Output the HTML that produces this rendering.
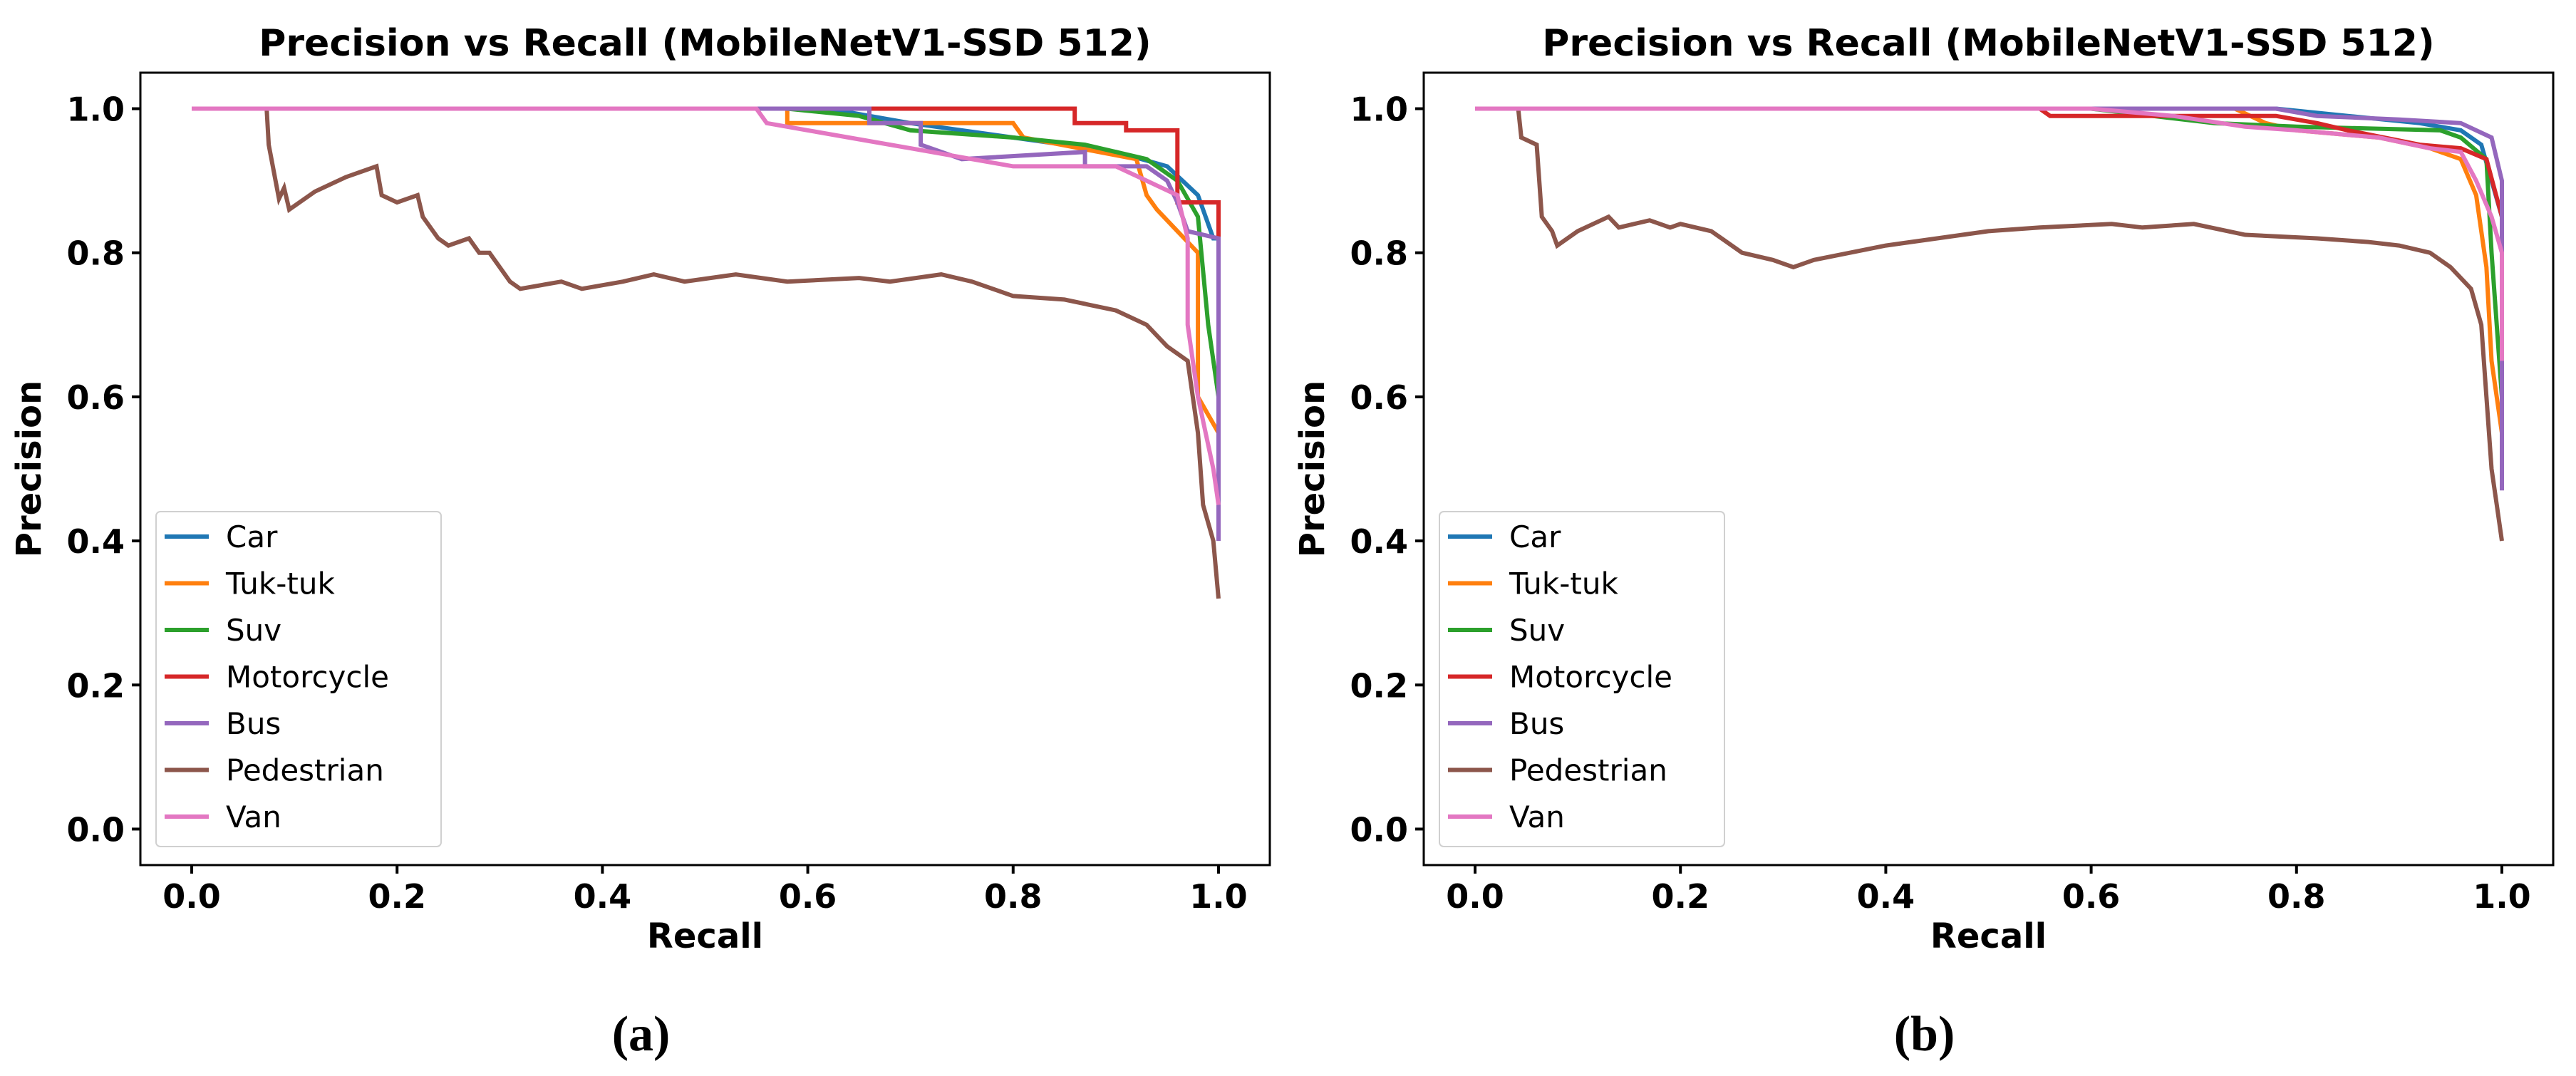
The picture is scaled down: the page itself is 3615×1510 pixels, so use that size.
<!DOCTYPE html>
<html><head><meta charset="utf-8">
<style>
html,body{margin:0;padding:0;background:#fff;}
svg{display:block;font-family:"DejaVu Sans","Liberation Sans",sans-serif;}
</style></head>
<body>
<svg id="fig" width="3615" height="1510" viewBox="0 0 3615 1510" xmlns="http://www.w3.org/2000/svg"></svg>
<script>
const seriesNames = ["Car","Tuk-tuk","Suv","Motorcycle","Bus","Pedestrian","Van"];
const seriesColors = ["#1f77b4","#ff7f0e","#2ca02c","#d62728","#9467bd","#8c564b","#e377c2"];
const xTicks = [0,0.2,0.4,0.6,0.8,1.0];
const yTicks = [0,0.2,0.4,0.6,0.8,1.0];

// Panel (a) recall / precision
const aCarR = [0,0.62,0.7,0.8,0.9,0.95,0.98,0.995,1.0,1.0];
const aCarP = [1,1,0.98,0.96,0.94,0.92,0.88,0.82,0.82,0.5];
const aTukR = [0,0.58,0.58,0.8,0.81,0.92,0.93,0.94,0.96,0.98,0.98,1.0];
const aTukP = [1,1,0.98,0.98,0.96,0.93,0.88,0.86,0.83,0.8,0.6,0.55];
const aSuvR = [0,0.58,0.65,0.7,0.8,0.87,0.93,0.96,0.98,0.99,1.0];
const aSuvP = [1,1,0.99,0.97,0.96,0.95,0.93,0.9,0.85,0.7,0.6];
const aMotR = [0,0.86,0.86,0.91,0.91,0.96,0.96,1.0,1.0];
const aMotP = [1,1,0.98,0.98,0.97,0.97,0.87,0.87,0.82];
const aBusR = [0,0.66,0.66,0.71,0.71,0.75,0.87,0.87,0.93,0.95,0.96,0.97,1.0,1.0];
const aBusP = [1,1,0.98,0.98,0.95,0.93,0.94,0.92,0.92,0.9,0.87,0.83,0.82,0.4];
const aPedR = [0,0.073,0.075,0.085,0.09,0.095,0.12,0.15,0.18,0.185,0.2,0.22,0.225,0.24,0.25,0.27,0.28,0.29,0.31,0.32,0.36,0.38,0.42,0.45,0.48,0.53,0.58,0.65,0.68,0.73,0.76,0.8,0.85,0.9,0.93,0.95,0.97,0.98,0.985,0.995,1.0];
const aPedP = [1,1,0.95,0.875,0.89,0.86,0.885,0.905,0.92,0.88,0.87,0.88,0.85,0.82,0.81,0.82,0.80,0.80,0.76,0.75,0.76,0.75,0.76,0.77,0.76,0.77,0.76,0.765,0.76,0.77,0.76,0.74,0.735,0.72,0.70,0.67,0.65,0.55,0.45,0.40,0.32];
const aVanR = [0,0.55,0.56,0.6,0.64,0.7,0.76,0.8,0.9,0.93,0.96,0.97,0.97,0.98,0.995,1.0];
const aVanP = [1,1,0.98,0.97,0.96,0.945,0.93,0.92,0.92,0.9,0.88,0.82,0.7,0.6,0.5,0.45];

// Panel (b)
const bCarR = [0,0.78,0.85,0.92,0.96,0.98,0.99,1.0];
const bCarP = [1,1,0.99,0.98,0.97,0.95,0.9,0.85];
const bTukR = [0,0.74,0.77,0.8,0.88,0.93,0.96,0.975,0.985,0.99,1.0];
const bTukP = [1,1,0.98,0.97,0.96,0.945,0.93,0.88,0.78,0.65,0.55];
const bSuvR = [0,0.6,0.72,0.8,0.94,0.96,0.985,0.99,1.0];
const bSuvP = [1,1,0.98,0.975,0.97,0.96,0.93,0.8,0.6];
const bMotR = [0,0.55,0.56,0.78,0.82,0.85,0.92,0.96,0.985,1.0];
const bMotP = [1,1,0.99,0.99,0.98,0.97,0.95,0.945,0.93,0.85];
const bBusR = [0,0.78,0.82,0.9,0.96,0.99,1.0,1.0];
const bBusP = [1,1,0.99,0.985,0.98,0.96,0.9,0.47];
const bPedR = [0,0.042,0.045,0.06,0.065,0.075,0.08,0.1,0.13,0.14,0.17,0.19,0.2,0.23,0.26,0.29,0.31,0.33,0.4,0.45,0.5,0.55,0.62,0.65,0.7,0.75,0.82,0.87,0.9,0.93,0.95,0.97,0.98,0.985,0.99,0.995,1.0];
const bPedP = [1,1,0.96,0.95,0.85,0.83,0.81,0.83,0.85,0.835,0.845,0.835,0.84,0.83,0.8,0.79,0.78,0.79,0.81,0.82,0.83,0.835,0.84,0.835,0.84,0.825,0.82,0.815,0.81,0.80,0.78,0.75,0.7,0.6,0.5,0.45,0.4];
const bVanR = [0,0.6,0.68,0.75,0.8,0.88,0.93,0.96,0.975,0.99,1.0,1.0];
const bVanP = [1,1,0.99,0.975,0.97,0.96,0.945,0.94,0.9,0.85,0.8,0.65];

const NS = "http://www.w3.org/2000/svg";
const svg = document.getElementById("fig");
function mk(tag, attrs, parent){
  const e = document.createElementNS(NS, tag);
  for (const k in attrs) e.setAttribute(k, attrs[k]);
  (parent||svg).appendChild(e);
  return e;
}

function panel(px, label, R, P, key){
  const L = px, T = 102, W = 1585, H = 1112;
  const g = mk("g", {});
  
  
  const xs = v => L + (v + 0.05) / 1.1 * W;
  const ys = v => T + (1.05 - v) / 1.1 * H;

  const t = mk("text", {x: L + W/2, y: 78, "text-anchor":"middle", "font-size":"52", "font-weight":"bold"}, g);
  t.textContent = "Precision vs Recall (MobileNetV1-SSD 512)";
  
  

  for (let i = 0; i < R.length; i++){
    const pts = R[i].map((r, j) => xs(r).toFixed(1) + "," + ys(P[i][j]).toFixed(1)).join(" ");
    const pl = mk("polyline", {points: pts, fill:"none", stroke: seriesColors[i], "stroke-width":"6", "stroke-linejoin":"miter"}, g);
    
    
  }

  const fr = mk("rect", {x: L, y: T, width: W, height: H, fill:"none", stroke:"#000", "stroke-width":"3"}, g);
  
  

  xTicks.forEach(v => {
    const x = xs(v);
    mk("line", {x1:x, x2:x, y1:T+H, y2:T+H+12, stroke:"#000", "stroke-width":"4"}, g);
    const tx = mk("text", {x:x, y:T+H+60, "text-anchor":"middle", "font-size":"46", "font-weight":"bold"}, g);
    tx.textContent = v.toFixed(1);
    
    
  });
  yTicks.forEach(v => {
    const y = ys(v);
    mk("line", {x1:L-12, x2:L, y1:y, y2:y, stroke:"#000", "stroke-width":"4"}, g);
    const ty = mk("text", {x:L-22, y:y+17, "text-anchor":"end", "font-size":"46", "font-weight":"bold"}, g);
    ty.textContent = v.toFixed(1);
    
    
  });

  const xl = mk("text", {x: L + W/2, y: 1330, "text-anchor":"middle", "font-size":"48", "font-weight":"bold"}, g);
  xl.textContent = "Recall";
  
  
  const yl = mk("text", {x: 0, y: 0, transform:`translate(${L-140},${T+H/2}) rotate(-90)`, "text-anchor":"middle", "font-size":"48", "font-weight":"bold"}, g);
  yl.textContent = "Precision";
  
  

  const lg = mk("g", {}, g);
  
  
  mk("rect", {x: L+22, y: 718, width: 400, height: 470, rx: 6, fill:"#fff", stroke:"#d0d0d0", "stroke-width":"2"}, lg);
  seriesNames.forEach((n, i) => {
    const y = 753 + i * 65.5;
    mk("line", {x1: L+34, x2: L+96, y1: y, y2: y, stroke: seriesColors[i], "stroke-width":"6"}, lg);
    const lt = mk("text", {x: L+120, y: y+15, "font-size":"42"}, lg);
    lt.textContent = n;
    
    
  });

  const sub = mk("text", {x: L + W/2 - 90, y: 1474, "text-anchor":"middle", "font-size":"70", "font-weight":"bold", "font-family":"'Liberation Serif',serif"}, g);
  sub.textContent = label;
  
  
}

panel(197, "(a)", [aCarR,aTukR,aSuvR,aMotR,aBusR,aPedR,aVanR], [aCarP,aTukP,aSuvP,aMotP,aBusP,aPedP,aVanP], "a");
panel(1998, "(b)", [bCarR,bTukR,bSuvR,bMotR,bBusR,bPedR,bVanR], [bCarP,bTukP,bSuvP,bMotP,bBusP,bPedP,bVanP], "b");
</script>
</body></html>
